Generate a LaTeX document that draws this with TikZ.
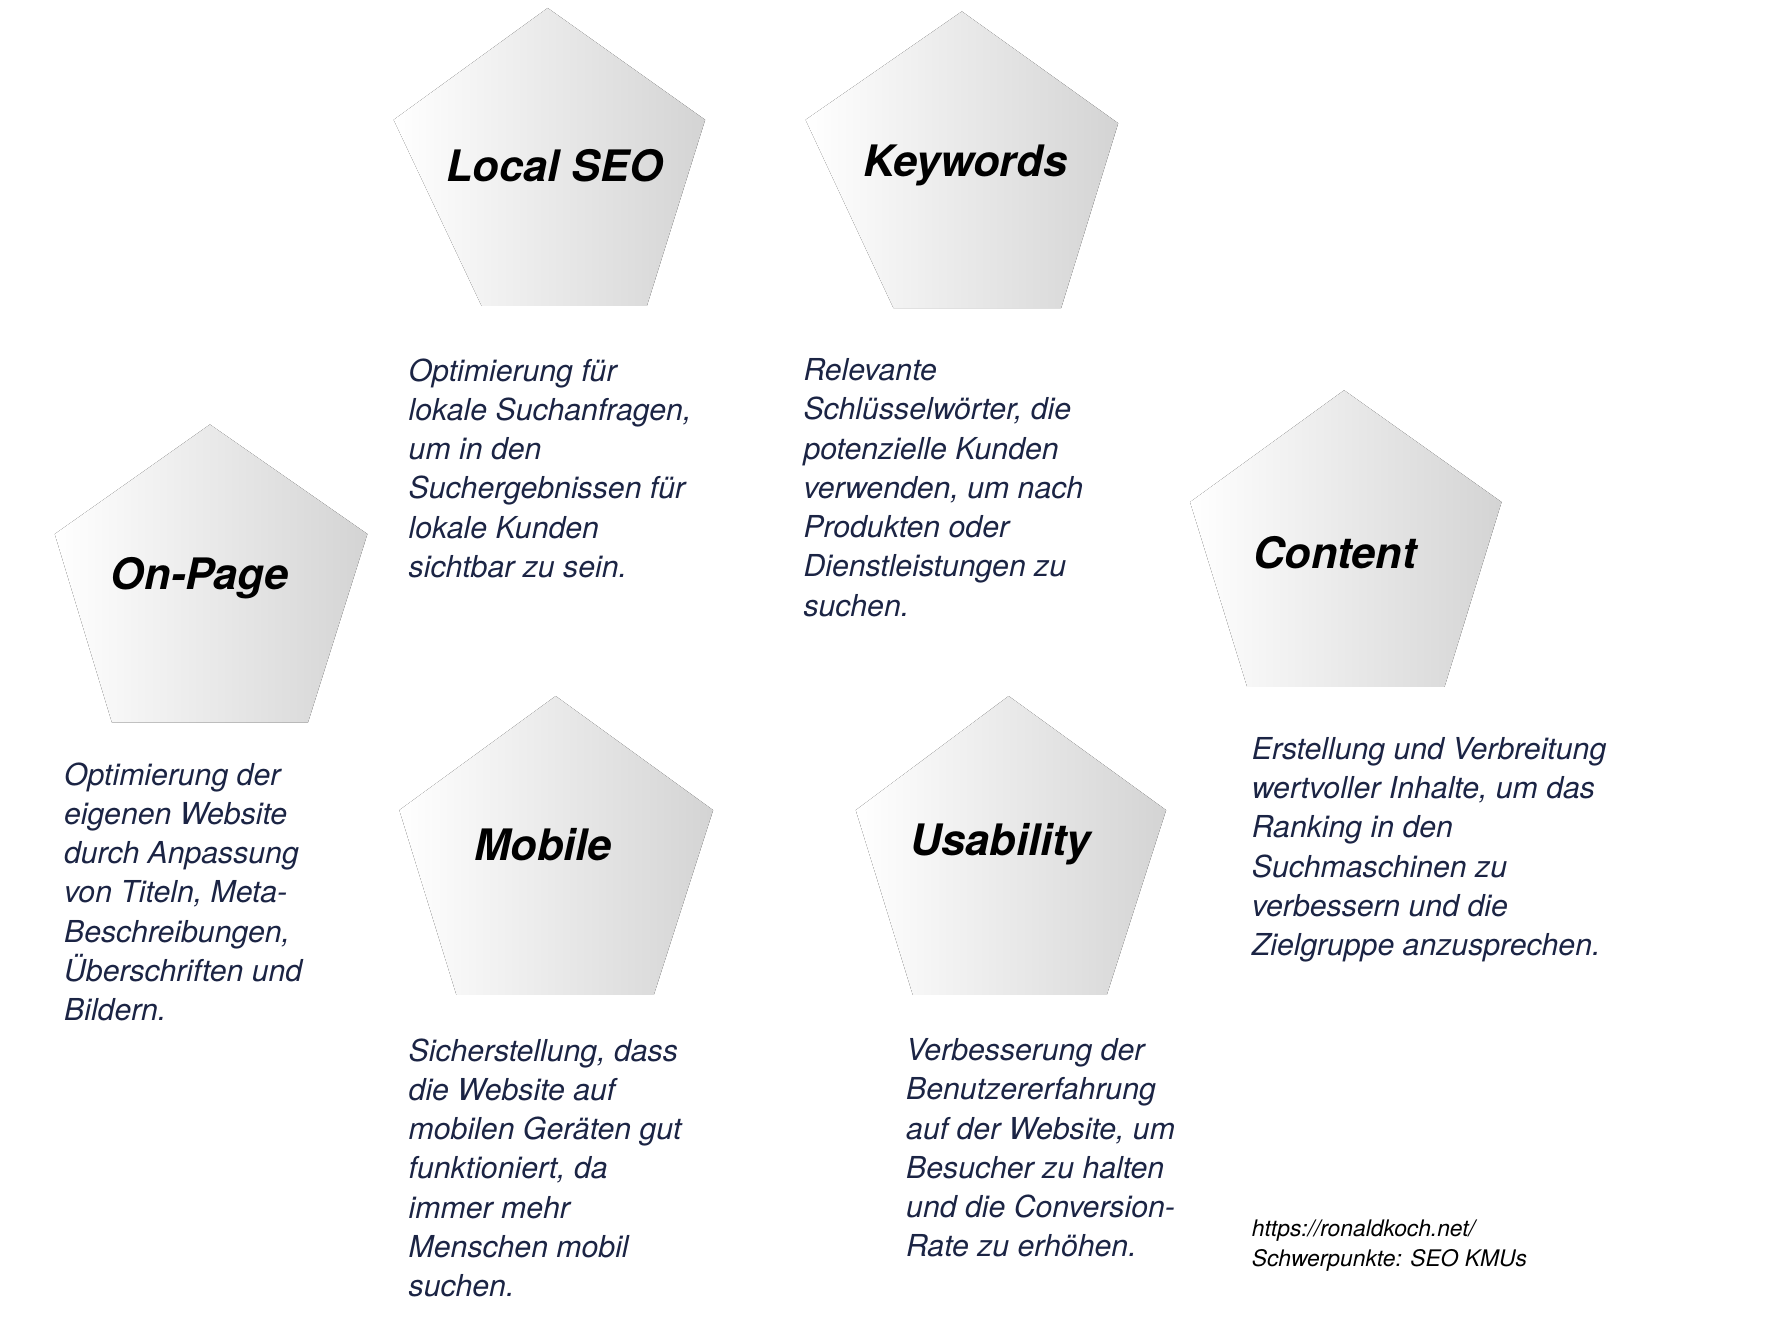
\documentclass[tikz,border=0pt]{standalone}
\usepackage{fontspec}
\setmainfont{TeX Gyre Heros}
\definecolor{txt}{HTML}{1B2444}
\tikzset{
 pent/.style={left color=white,right color=black!17,draw=none},
 ttl/.style={font=\fontsize{38}{44}\selectfont\bfseries\itshape,text=black,inner sep=0},
 body/.style={font=\fontsize{26.5}{34.4}\selectfont\itshape,text=txt,anchor=north west,align=left,inner sep=0},
 url/.style={font=\fontsize{20}{26.5}\selectfont\itshape,text=black,anchor=north west,align=left,inner sep=0}
}
\begin{document}
\begin{tikzpicture}[x=1pt,y=-1pt]
\useasboundingbox (0,0) rectangle (1553,1159);
\fill[pent] (480,7) -- (618,105) -- (567,268) -- (422,268) -- (345,105) -- cycle;
\fill[pent] (843,10) -- (980,108) -- (930,270) -- (783,270) -- (706,105) -- cycle;
\fill[pent] (184,372) -- (322,468) -- (270,633) -- (98,633) -- (48,468) -- cycle;
\fill[pent] (1178,342) -- (1316,440) -- (1266,602) -- (1093,602) -- (1043,440) -- cycle;
\fill[pent] (487,610) -- (625,710) -- (573,872) -- (400,872) -- (350,710) -- cycle;
\fill[pent] (884,610) -- (1022,710) -- (970,872) -- (800,872) -- (750,710) -- cycle;
\node[ttl] (t1) at (486,145) {Local SEO};
\node[ttl] (t2) at (846,145) {Keywords};
\node[ttl] (t3) at (175,507) {On-Page};
\node[ttl] (t4) at (1170,484) {Content};
\node[ttl] (t5) at (476,740) {Mobile};
\node[ttl] (t6) at (877,740) {Usability};
\node[body] (b1) at (358,314) {Optimierung für\\lokale Suchanfragen,\\um in den\\Suchergebnissen für\\lokale Kunden\\sichtbar zu sein.};
\node[body] (b2) at (704,314) {Relevante\\Schlüsselwörter, die\\potenzielle Kunden\\verwenden, um nach\\Produkten oder\\Dienstleistungen zu\\suchen.};
\node[body] (b3) at (56,668) {Optimierung der\\eigenen Website\\durch Anpassung\\von Titeln, Meta-\\Beschreibungen,\\Überschriften und\\Bildern.};
\node[body] (b4) at (1097,646) {Erstellung und Verbreitung\\wertvoller Inhalte, um das\\Ranking in den\\Suchmaschinen zu\\verbessern und die\\Zielgruppe anzusprechen.};
\node[body] (b5) at (358,910) {Sicherstellung, dass\\die Website auf\\mobilen Geräten gut\\funktioniert, da\\immer mehr\\Menschen mobil\\suchen.};
\node[body] (b6) at (794,910) {Verbesserung der\\Benutzererfahrung\\auf der Website, um\\Besucher zu halten\\und die Conversion-\\Rate zu erhöhen.};
\node[url] (u) at (1097,1069) {https://ronaldkoch.net/\\Schwerpunkte: SEO KMUs};
\end{tikzpicture}
\end{document}
